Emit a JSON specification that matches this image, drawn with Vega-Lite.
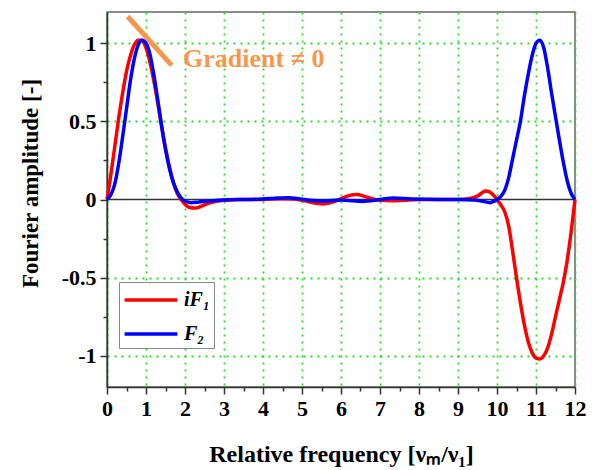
{
  "$schema": "https://vega.github.io/schema/vega-lite/v6.json",
  "width": 468,
  "height": 375,
  "autosize": {"type": "none"},
  "padding": {"left": 107, "top": 12, "right": 17, "bottom": 83},
  "background": "white",
  "config": {
    "view": {"stroke": "#666666", "strokeWidth": 1.5},
    "font": "Liberation Serif",
    "axis": {"labelOverlap": false, "labelFlush": false}
  },
  "datasets": {
    "curves": [
      {"x": 0, "y": 0, "s": "iF₁"}, {"x": 0.1, "y": 0.16, "s": "iF₁"}, {"x": 0.2, "y": 0.34, "s": "iF₁"}, {"x": 0.3, "y": 0.52, "s": "iF₁"}, {"x": 0.4, "y": 0.68, "s": "iF₁"}, {"x": 0.5, "y": 0.82, "s": "iF₁"}, {"x": 0.6, "y": 0.92, "s": "iF₁"}, {"x": 0.7, "y": 0.99, "s": "iF₁"}, {"x": 0.8, "y": 1.02, "s": "iF₁"}, {"x": 0.9, "y": 1.02, "s": "iF₁"}, {"x": 1.0, "y": 0.97, "s": "iF₁"}, {"x": 1.1, "y": 0.88, "s": "iF₁"}, {"x": 1.2, "y": 0.76, "s": "iF₁"}, {"x": 1.3, "y": 0.62, "s": "iF₁"}, {"x": 1.4, "y": 0.47, "s": "iF₁"}, {"x": 1.5, "y": 0.33, "s": "iF₁"}, {"x": 1.6, "y": 0.21, "s": "iF₁"}, {"x": 1.7, "y": 0.11, "s": "iF₁"}, {"x": 1.8, "y": 0.04, "s": "iF₁"}, {"x": 1.9, "y": 0.0, "s": "iF₁"}, {"x": 2.0, "y": -0.03, "s": "iF₁"}, {"x": 2.1, "y": -0.05, "s": "iF₁"}, {"x": 2.25, "y": -0.055, "s": "iF₁"}, {"x": 2.4, "y": -0.045, "s": "iF₁"}, {"x": 2.6, "y": -0.025, "s": "iF₁"}, {"x": 2.8, "y": -0.012, "s": "iF₁"}, {"x": 3.0, "y": -0.005, "s": "iF₁"}, {"x": 3.5, "y": 0.0, "s": "iF₁"}, {"x": 4.0, "y": 0.0, "s": "iF₁"}, {"x": 4.5, "y": 0.005, "s": "iF₁"}, {"x": 4.8, "y": 0.003, "s": "iF₁"}, {"x": 5.1, "y": -0.01, "s": "iF₁"}, {"x": 5.35, "y": -0.024, "s": "iF₁"}, {"x": 5.55, "y": -0.028, "s": "iF₁"}, {"x": 5.8, "y": -0.015, "s": "iF₁"}, {"x": 6.0, "y": 0.005, "s": "iF₁"}, {"x": 6.2, "y": 0.025, "s": "iF₁"}, {"x": 6.4, "y": 0.032, "s": "iF₁"}, {"x": 6.6, "y": 0.02, "s": "iF₁"}, {"x": 6.8, "y": 0.005, "s": "iF₁"}, {"x": 7.0, "y": -0.005, "s": "iF₁"}, {"x": 7.3, "y": -0.008, "s": "iF₁"}, {"x": 7.6, "y": -0.005, "s": "iF₁"}, {"x": 8.0, "y": 0.0, "s": "iF₁"}, {"x": 8.5, "y": 0.0, "s": "iF₁"}, {"x": 9.0, "y": 0.0, "s": "iF₁"}, {"x": 9.3, "y": 0.006, "s": "iF₁"}, {"x": 9.5, "y": 0.022, "s": "iF₁"}, {"x": 9.6, "y": 0.04, "s": "iF₁"}, {"x": 9.7, "y": 0.055, "s": "iF₁"}, {"x": 9.8, "y": 0.05, "s": "iF₁"}, {"x": 9.9, "y": 0.03, "s": "iF₁"}, {"x": 10.0, "y": 0.0, "s": "iF₁"}, {"x": 10.1, "y": -0.035, "s": "iF₁"}, {"x": 10.2, "y": -0.08, "s": "iF₁"}, {"x": 10.3, "y": -0.17, "s": "iF₁"}, {"x": 10.4, "y": -0.33, "s": "iF₁"}, {"x": 10.5, "y": -0.5, "s": "iF₁"}, {"x": 10.6, "y": -0.66, "s": "iF₁"}, {"x": 10.7, "y": -0.8, "s": "iF₁"}, {"x": 10.8, "y": -0.91, "s": "iF₁"}, {"x": 10.9, "y": -0.98, "s": "iF₁"}, {"x": 11.0, "y": -1.015, "s": "iF₁"}, {"x": 11.1, "y": -1.02, "s": "iF₁"}, {"x": 11.2, "y": -1.0, "s": "iF₁"}, {"x": 11.3, "y": -0.95, "s": "iF₁"}, {"x": 11.4, "y": -0.86, "s": "iF₁"}, {"x": 11.5, "y": -0.75, "s": "iF₁"}, {"x": 11.6, "y": -0.64, "s": "iF₁"}, {"x": 11.7, "y": -0.53, "s": "iF₁"}, {"x": 11.8, "y": -0.39, "s": "iF₁"}, {"x": 11.9, "y": -0.21, "s": "iF₁"}, {"x": 12.0, "y": 0.0, "s": "iF₁"},
      {"x": 0, "y": 0, "s": "F₂"}, {"x": 0.1, "y": 0.03, "s": "F₂"}, {"x": 0.2, "y": 0.1, "s": "F₂"}, {"x": 0.3, "y": 0.23, "s": "F₂"}, {"x": 0.4, "y": 0.4, "s": "F₂"}, {"x": 0.5, "y": 0.58, "s": "F₂"}, {"x": 0.6, "y": 0.76, "s": "F₂"}, {"x": 0.7, "y": 0.9, "s": "F₂"}, {"x": 0.8, "y": 0.99, "s": "F₂"}, {"x": 0.9, "y": 1.02, "s": "F₂"}, {"x": 1.0, "y": 1.0, "s": "F₂"}, {"x": 1.1, "y": 0.93, "s": "F₂"}, {"x": 1.2, "y": 0.8, "s": "F₂"}, {"x": 1.3, "y": 0.64, "s": "F₂"}, {"x": 1.4, "y": 0.47, "s": "F₂"}, {"x": 1.5, "y": 0.32, "s": "F₂"}, {"x": 1.6, "y": 0.2, "s": "F₂"}, {"x": 1.7, "y": 0.11, "s": "F₂"}, {"x": 1.8, "y": 0.05, "s": "F₂"}, {"x": 1.9, "y": 0.01, "s": "F₂"}, {"x": 2.0, "y": -0.01, "s": "F₂"}, {"x": 2.15, "y": -0.02, "s": "F₂"}, {"x": 2.4, "y": -0.015, "s": "F₂"}, {"x": 2.7, "y": -0.008, "s": "F₂"}, {"x": 3.0, "y": -0.003, "s": "F₂"}, {"x": 3.5, "y": 0.0, "s": "F₂"}, {"x": 4.0, "y": 0.003, "s": "F₂"}, {"x": 4.3, "y": 0.008, "s": "F₂"}, {"x": 4.65, "y": 0.012, "s": "F₂"}, {"x": 4.95, "y": 0.004, "s": "F₂"}, {"x": 5.2, "y": -0.005, "s": "F₂"}, {"x": 5.5, "y": -0.01, "s": "F₂"}, {"x": 6.0, "y": -0.003, "s": "F₂"}, {"x": 6.3, "y": -0.008, "s": "F₂"}, {"x": 6.55, "y": -0.012, "s": "F₂"}, {"x": 7.0, "y": 0.0, "s": "F₂"}, {"x": 7.35, "y": 0.01, "s": "F₂"}, {"x": 7.8, "y": 0.003, "s": "F₂"}, {"x": 8.5, "y": 0.0, "s": "F₂"}, {"x": 9.0, "y": 0.0, "s": "F₂"}, {"x": 9.4, "y": -0.003, "s": "F₂"}, {"x": 9.65, "y": -0.012, "s": "F₂"}, {"x": 9.82, "y": -0.02, "s": "F₂"}, {"x": 9.92, "y": -0.012, "s": "F₂"}, {"x": 10.0, "y": 0.0, "s": "F₂"}, {"x": 10.1, "y": 0.02, "s": "F₂"}, {"x": 10.2, "y": 0.06, "s": "F₂"}, {"x": 10.3, "y": 0.14, "s": "F₂"}, {"x": 10.4, "y": 0.26, "s": "F₂"}, {"x": 10.5, "y": 0.38, "s": "F₂"}, {"x": 10.6, "y": 0.5, "s": "F₂"}, {"x": 10.7, "y": 0.66, "s": "F₂"}, {"x": 10.8, "y": 0.8, "s": "F₂"}, {"x": 10.9, "y": 0.92, "s": "F₂"}, {"x": 11.0, "y": 1.0, "s": "F₂"}, {"x": 11.1, "y": 1.02, "s": "F₂"}, {"x": 11.2, "y": 0.97, "s": "F₂"}, {"x": 11.3, "y": 0.84, "s": "F₂"}, {"x": 11.4, "y": 0.68, "s": "F₂"}, {"x": 11.5, "y": 0.53, "s": "F₂"}, {"x": 11.6, "y": 0.38, "s": "F₂"}, {"x": 11.7, "y": 0.24, "s": "F₂"}, {"x": 11.8, "y": 0.12, "s": "F₂"}, {"x": 11.9, "y": 0.04, "s": "F₂"}, {"x": 12.0, "y": 0.0, "s": "F₂"}
    ],
    "slash": [{"x": 0.53, "y": 1.171, "x2": 1.66, "y2": 0.858}],
    "note": [{"x": 1.95, "y": 0.9, "label": "Gradient ≠ 0"}],
    "zero": [{"x": 0, "x2": 12, "y": 0}]
  },
  "encoding": {
    "x": {
      "field": "x", "type": "quantitative",
      "scale": {"domain": [0, 12], "nice": false, "zero": false},
      "axis": {
        "values": [0, 0.5, 1, 1.5, 2, 2.5, 3, 3.5, 4, 4.5, 5, 5.5, 6, 6.5, 7, 7.5, 8, 8.5, 9, 9.5, 10, 10.5, 11, 11.5, 12],
        "labelExpr": "datum.value % 1 === 0 ? toString(datum.value) : ''",
        "labelFlush": false, "labelOverlap": false,
        "title": "Relative frequency [νₘ/ν₁]",
        "titleFont": "Liberation Serif", "titleFontSize": 24, "titleFontWeight": "bold", "titleColor": "black",
        "titleBaseline": "alphabetic", "titleY": 74,
        "labelFont": "Liberation Serif", "labelFontSize": 22, "labelFontWeight": "bold", "labelColor": "black",
        "labelPadding": 4,
        "domainColor": "#333333", "domainWidth": 1.5,
        "tickColor": "#333333", "tickWidth": 1.5,
        "tickSize": {"condition": {"test": "datum.value % 1 !== 0", "value": 4}, "value": 7},
        "grid": true,
        "gridColor": "#22e022", "gridDash": [2, 5], "gridWidth": 1.8,
        "gridOpacity": {"condition": {"test": "datum.value % 1 !== 0", "value": 0}, "value": 1}
      }
    },
    "y": {
      "field": "y", "type": "quantitative",
      "scale": {"domain": [-1.2, 1.2], "nice": false, "zero": false},
      "axis": {
        "values": [-1, -0.75, -0.5, -0.25, 0, 0.25, 0.5, 0.75, 1],
        "labelExpr": "datum.value % 0.5 === 0 ? toString(datum.value) : ''",
        "labelOverlap": false,
        "title": "Fourier amplitude [-]",
        "titleFont": "Liberation Serif", "titleFontSize": 23, "titleFontWeight": "bold", "titleColor": "black",
        "titleBaseline": "alphabetic", "titleAngle": -90, "titleX": -70, "titleY": 171,
        "labelFont": "Liberation Serif", "labelFontSize": 22, "labelFontWeight": "bold", "labelColor": "black",
        "labelPadding": 4,
        "domainColor": "#333333", "domainWidth": 1.5,
        "tickColor": "#333333", "tickWidth": 1.5,
        "tickSize": {"condition": {"test": "datum.value % 0.5 !== 0", "value": 4}, "value": 7},
        "grid": true,
        "gridColor": "#22e022", "gridDash": [2, 5], "gridWidth": 1.8,
        "gridOpacity": {"condition": {"test": "datum.value % 0.5 !== 0 || datum.value === 0", "value": 0}, "value": 1}
      }
    }
  },
  "layer": [
    {
      "data": {"name": "zero"},
      "mark": {"type": "rule", "color": "#333333", "strokeWidth": 1.5},
      "encoding": {"x2": {"field": "x2"}}
    },
    {
      "data": {"name": "curves"},
      "mark": {"type": "line", "strokeWidth": 3.5, "interpolate": "monotone"},
      "encoding": {
        "color": {
          "field": "s", "type": "nominal",
          "scale": {"domain": ["iF₁", "F₂"], "range": ["#ff0000", "#0000ff"]},
          "legend": {
            "title": null,
            "orient": "none", "legendX": 12, "legendY": 270,
            "symbolType": "M-2.2,0H2.2", "symbolSize": 576, "symbolStrokeWidth": 3.5,
            "symbolOffset": 14,
            "labelFont": "Liberation Serif", "labelFontSize": 20, "labelFontWeight": "bold", "labelFontStyle": "italic", "labelColor": "black",
            "labelOffset": 19,
            "strokeColor": "#888888", "fillColor": "white", "padding": 4, "rowPadding": 10,
            "cornerRadius": 0
          }
        }
      }
    },
    {
      "data": {"name": "slash"},
      "mark": {"type": "rule", "color": "#f5984e", "strokeWidth": 5},
      "encoding": {
        "x2": {"field": "x2"},
        "y2": {"field": "y2"}
      }
    },
    {
      "data": {"name": "note"},
      "mark": {"type": "text", "color": "#f5984e", "font": "Liberation Serif", "fontSize": 26, "fontWeight": "bold", "align": "left", "baseline": "middle"},
      "encoding": {
        "text": {"field": "label"}
      }
    }
  ]
}
